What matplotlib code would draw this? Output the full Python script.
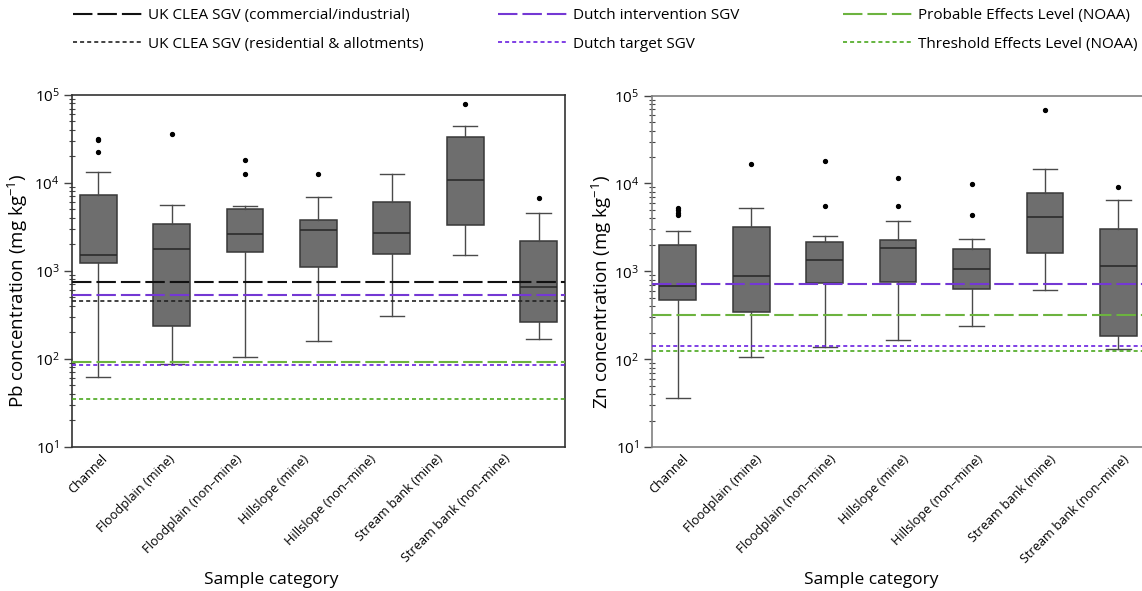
import matplotlib
matplotlib.use("Agg")
import matplotlib.pyplot as plt
from matplotlib.lines import Line2D

plt.rcParams["font.family"] = ["Open Sans", "DejaVu Sans"]
plt.rcParams["mathtext.fontset"] = "custom"
plt.rcParams["mathtext.rm"] = "Open Sans"
plt.rcParams["mathtext.it"] = "Open Sans:italic"
plt.rcParams["mathtext.default"] = "regular"
plt.rcParams["lines.scale_dashes"] = False

# ---------------------------------------------------------------------------
# Data
# ---------------------------------------------------------------------------
CATEGORIES = ["Channel", "Floodplain (mine)", "Floodplain (non\u2013mine)",
              "Hillslope (mine)", "Hillslope (non\u2013mine)",
              "Stream bank (mine)", "Stream bank (non\u2013mine)"]

PB_WHISLO = [61, 86, 105, 160, 308, 1500, 166]
PB_Q1     = [1210, 237, 1640, 1090, 1570, 3300, 261]
PB_MED    = [1500, 1745, 2590, 2870, 2660, 10660, 653]
PB_Q3     = [7190, 3410, 4980, 3770, 6040, 33000, 2190]
PB_WHISHI = [13150, 5570, 5430, 6820, 12600, 44000, 4560]
PB_FLIERS = [[22200, 30700, 31200], [36200], [12700, 18000], [12600], [],
             [78900], [6700]]

ZN_WHISLO = [36, 105, 136, 166, 237, 620, 129]
ZN_Q1     = [473, 342, 731, 757, 630, 1630, 185]
ZN_MED    = [683, 877, 1360, 1845, 1065, 4190, 1150]
ZN_Q3     = [2010, 3160, 2160, 2250, 1780, 7790, 3000]
ZN_WHISHI = [2850, 5250, 2500, 3700, 2310, 14700, 6470]
ZN_FLIERS = [[4330, 4610, 4930, 5250], [16700], [5580, 17900], [5580, 11400],
             [4380, 9940], [69300], [9100]]

GUIDE_LABELS = ["UK CLEA SGV (commercial/industrial)",
                "UK CLEA SGV (residential & allotments)",
                "Dutch intervention SGV",
                "Dutch target SGV",
                "Probable Effects Level (NOAA)",
                "Threshold Effects Level (NOAA)"]
PB_GUIDE = [750, 450, 530, 85, 91.3, 35]
ZN_GUIDE = [None, None, 720, 140, 315, 123]

# ---------------------------------------------------------------------------
# Styling
# ---------------------------------------------------------------------------
LONG = (0, (14, 3.6))
SHORT = (0, (2.9, 2.2))
GUIDE_STYLE = [
    dict(color="#111111", linestyle=LONG, linewidth=1.5),
    dict(color="#222222", linestyle=SHORT, linewidth=1.2),
    dict(color="#7438d4", linestyle=LONG, linewidth=1.5),
    dict(color="#6a1fe0", linestyle=SHORT, linewidth=1.2),
    dict(color="#6cb33f", linestyle=LONG, linewidth=1.5),
    dict(color="#4aa81e", linestyle=SHORT, linewidth=1.2),
]
BOX_FACE = "#6e6e6e"
BOX_EDGE = "#383838"
WHISK = "#4a4a4a"


def draw_panel(ax, whislo, q1, med, q3, whishi, fliers, guides, spine_col,
               label_step, label_shift):
    stats = [dict(whislo=a, q1=b, med=c, q3=d, whishi=e, fliers=f)
             for a, b, c, d, e, f in zip(whislo, q1, med, q3, whishi, fliers)]
    ax.bxp(stats, positions=range(len(stats)), widths=0.5, capwidths=0.33,
           patch_artist=True, showfliers=True,
           boxprops=dict(facecolor=BOX_FACE, edgecolor=BOX_EDGE, linewidth=1.1),
           medianprops=dict(color="#262626", linewidth=1.1),
           whiskerprops=dict(color=WHISK, linewidth=1.0),
           capprops=dict(color=WHISK, linewidth=1.0),
           flierprops=dict(marker="o", markersize=2.8, markerfacecolor="black",
                           markeredgecolor="black"))
    for val, st in zip(guides, GUIDE_STYLE):
        if val is not None:
            ax.axhline(val, zorder=4, **st)

    ax.set_yscale("log")
    ax.set_ylim(10, 1e5)
    ax.set_xlim(-0.355, 6.355)
    # the category labels in the source are not spaced exactly like the boxes
    ax.set_xticks([label_shift + i * label_step for i in range(len(CATEGORIES))])
    ax.set_xticklabels(CATEGORIES, rotation=45, ha="right",
                       rotation_mode="anchor", fontsize=9.2)
    ax.tick_params(axis="x", length=0, pad=4)
    ax.tick_params(axis="y", which="major", direction="out", length=6,
                   width=1, labelsize=11, pad=3, color="#444444")
    ax.tick_params(axis="y", which="minor", direction="inout", length=4,
                   width=0.8, color="#444444")
    for sp in ax.spines.values():
        sp.set_color(spine_col)
        sp.set_linewidth(1.2)


fig = plt.figure(figsize=(11.42, 5.91), dpi=100)
ax1 = fig.add_axes([0.0633, 0.2445, 0.4311, 0.5948])
ax2 = fig.add_axes([0.5707, 0.2435, 0.4315, 0.5948])

draw_panel(ax1, PB_WHISLO, PB_Q1, PB_MED, PB_Q3, PB_WHISHI, PB_FLIERS,
           PB_GUIDE, "#333333", 0.915, 0.03)
draw_panel(ax2, ZN_WHISLO, ZN_Q1, ZN_MED, ZN_Q3, ZN_WHISHI, ZN_FLIERS,
           ZN_GUIDE, "#808080", 1.0, 0.06)

# axis titles
fig.text(18 / 1142, 1 - 291 / 591, "Pb concentration (mg kg$^{-1}$)",
         rotation=90, ha="center", va="center", fontsize=13.5)
fig.text(602 / 1142, 1 - 292 / 591, "Zn concentration (mg kg$^{-1}$)",
         rotation=90, ha="center", va="center", fontsize=13.5)
fig.text(271 / 1142, 1 - 580 / 591, "Sample category",
         ha="center", va="center", fontsize=12.5)
fig.text(871 / 1142, 1 - 580 / 591, "Sample category",
         ha="center", va="center", fontsize=12.5)

# legend: three columns of two entries
handles = [Line2D([0], [0], **st) for st in GUIDE_STYLE]
col_x = [73, 498, 843]
for i, x in enumerate(col_x):
    fig.legend(handles[2 * i:2 * i + 2], GUIDE_LABELS[2 * i:2 * i + 2],
               loc="upper left", bbox_to_anchor=(x / 1142, 1 - 8 / 591),
               frameon=False, fontsize=11, handlelength=4.5,
               handletextpad=0.4, labelspacing=0.9, borderpad=0,
               borderaxespad=0)

fig.savefig("out.png", dpi=100)
